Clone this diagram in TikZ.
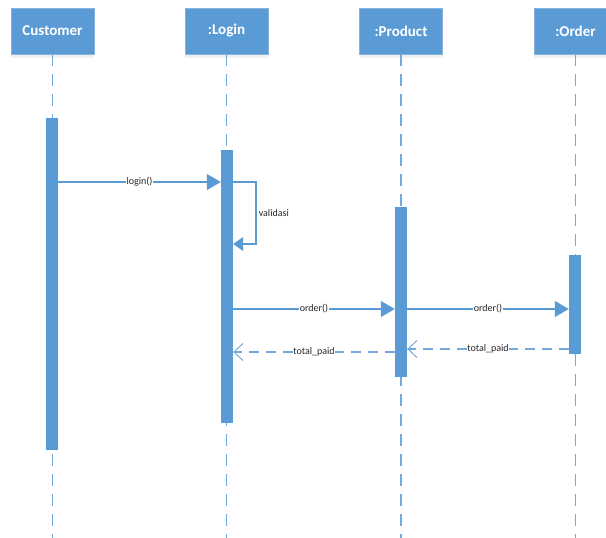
\documentclass[tikz,border=0pt]{standalone}
\usepackage{fontspec}
\setmainfont{Carlito}
\usetikzlibrary{arrows.meta,shadows}
\definecolor{umlblue}{HTML}{5B9BD5}

\begin{document}
\begin{tikzpicture}[x=1pt,y=-1pt,
    head/.style={rectangle,fill=umlblue,draw=umlblue!75!white,minimum width=83pt,minimum height=46pt,
      text=white,font=\bfseries\fontsize{15}{18}\selectfont,
      drop shadow={opacity=0.12,shadow xshift=0pt,shadow yshift=-4pt}},
    bar/.style={rectangle,fill=umlblue,inner sep=0pt,minimum width=12pt,anchor=north},
    life/.style={umlblue!85,line width=1.3pt,dash pattern=on 12pt off 8pt},
    call/.style={umlblue,line width=1.2pt,-{Triangle[length=14pt,width=16pt]}},
    selfcall/.style={umlblue,line width=1.2pt,-{Triangle[length=10pt,width=14pt]}},
    reply/.style={umlblue!85,line width=1.4pt,dash pattern=on 10pt off 7pt,
      -{Straight Barb[length=9pt,width=17pt,line width=1pt]}},
    lbl/.style={fill=white,inner sep=0.6pt,text=black!85,font=\fontsize{10}{12}\selectfont}]
  \useasboundingbox (0,0) rectangle (606,538);

  % lifeline heads
  \node[head] (customer) at (52.5,31) {Customer};
  \node[head] (login) at (226.5,31) {:Login};
  \node[head] (product) at (401,31) {:Product};
  \node[head] (order) at (575.5,31) {:Order};

  % dashed lifelines
  \foreach \obj in {customer,login,product,order}
    \draw[life] (\obj.south) -- (\obj.south |- 0,538);

  % activation bars
  \node[bar,minimum height=332pt] (actCustomer) at (52,118) {};
  \node[bar,minimum height=273pt] (actLogin) at (227,150) {};
  \node[bar,minimum height=170pt] (actProduct) at (401,207) {};
  \node[bar,minimum height=99pt] (actOrder) at (575,255) {};

  % messages
  \draw[call] (actCustomer.east |- 0,182) -- (actLogin.west |- 0,182)
    node[lbl,midway] {login()};
  \draw[selfcall] (actLogin.east |- 0,182) -- (256,182) -- (256,244) -- (actLogin.east |- 0,244);
  \node[lbl,anchor=west] (validasi) at (258,213) {validasi};
  \draw[call] (actLogin.east |- 0,309) -- (actProduct.west |- 0,309)
    node[lbl,midway] {order()};
  \draw[call] (actProduct.east |- 0,309) -- (actOrder.west |- 0,309)
    node[lbl,midway] {order()};
  \draw[reply] (actProduct.west |- 0,352) -- (actLogin.east |- 0,352)
    node[lbl,midway] {total\_paid};
  \draw[reply] (actOrder.west |- 0,349) -- (actProduct.east |- 0,349)
    node[lbl,midway] {total\_paid};
\end{tikzpicture}
\end{document}
